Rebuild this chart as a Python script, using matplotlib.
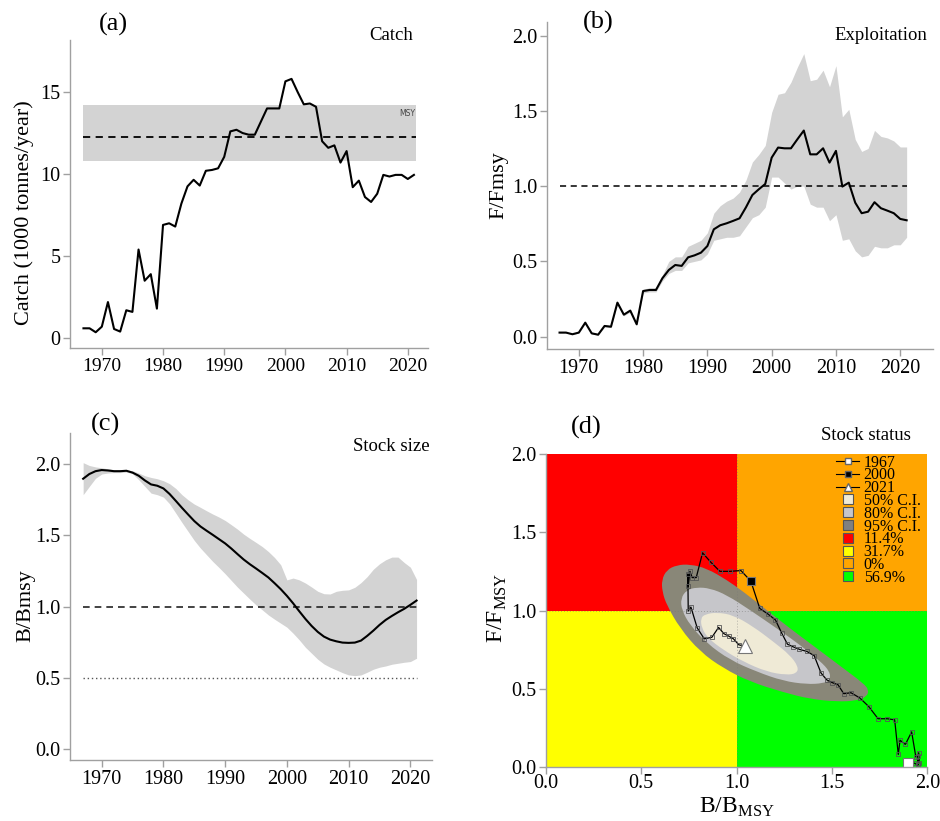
import numpy as np
import matplotlib
matplotlib.use("Agg")
import matplotlib.pyplot as plt
from matplotlib.path import Path
from matplotlib.patches import PathPatch, Rectangle
from matplotlib.lines import Line2D
from matplotlib.ticker import FormatStrFormatter

plt.rcParams['font.family'] = ['Liberation Serif', 'DejaVu Serif']
plt.rcParams['mathtext.fontset'] = 'custom'
plt.rcParams['mathtext.rm'] = 'Liberation Serif'

# ---------------- data ----------------
years = np.arange(1967, 2022)

catch = [0.6, 0.6, 0.36, 0.7, 2.2, 0.56, 0.4, 1.7, 1.6, 5.4,
         3.5, 3.9, 1.8, 6.9, 7.0, 6.8, 8.2, 9.25, 9.65, 9.3,
         10.2, 10.25, 10.35, 11.05, 12.6, 12.7, 12.5, 12.4, 12.4, 13.2,
         14.0, 14.0, 14.0, 15.65, 15.8, 15.0, 14.25, 14.3, 14.1, 12.0,
         11.6, 11.75, 10.7, 11.4, 9.2, 9.6, 8.6, 8.3, 8.8, 9.95,
         9.85, 9.95, 9.95, 9.7, 9.95]
msy = 12.28
msy_lo, msy_hi = 10.77, 14.18

ffmsy = [0.027, 0.027, 0.016, 0.027, 0.093, 0.022, 0.013, 0.071, 0.066, 0.226,
         0.146, 0.173, 0.082, 0.303, 0.31, 0.31, 0.388, 0.443, 0.476, 0.47,
         0.527, 0.54, 0.558, 0.602, 0.713, 0.74, 0.753, 0.769, 0.786, 0.859,
         0.941, 0.979, 1.014, 1.189, 1.256, 1.251, 1.251, 1.311, 1.369, 1.211,
         1.211, 1.251, 1.156, 1.234, 0.997, 1.023, 0.89, 0.82, 0.83, 0.893,
         0.853, 0.837, 0.82, 0.782, 0.773]
ffmsy_hi = [0.03, 0.03, 0.02, 0.03, 0.10, 0.03, 0.02, 0.08, 0.075, 0.235,
            0.155, 0.185, 0.09, 0.315, 0.325, 0.325, 0.41, 0.50, 0.53, 0.53,
            0.60, 0.62, 0.64, 0.69, 0.82, 0.87, 0.90, 0.92, 0.96, 1.04,
            1.16, 1.21, 1.27, 1.49, 1.61, 1.62, 1.69, 1.79, 1.88, 1.70,
            1.71, 1.77, 1.66, 1.80, 1.46, 1.51, 1.31, 1.23, 1.25, 1.37,
            1.33, 1.32, 1.30, 1.26, 1.26]
ffmsy_lo = [0.024, 0.024, 0.013, 0.024, 0.086, 0.018, 0.010, 0.064, 0.06, 0.215,
            0.138, 0.163, 0.075, 0.29, 0.297, 0.297, 0.37, 0.42, 0.44, 0.44,
            0.49, 0.50, 0.51, 0.55, 0.64, 0.65, 0.66, 0.66, 0.67, 0.73,
            0.79, 0.81, 0.86, 1.06, 1.06, 1.02, 0.98, 1.00, 1.00, 0.88,
            0.86, 0.86, 0.77, 0.81, 0.64, 0.65, 0.57, 0.53, 0.54, 0.60,
            0.59, 0.59, 0.61, 0.61, 0.66]

bbmsy = [1.897, 1.93, 1.95, 1.958, 1.955, 1.95, 1.95, 1.953, 1.94, 1.918,
         1.885, 1.857, 1.848, 1.829, 1.79, 1.742, 1.693, 1.646, 1.60, 1.562,
         1.532, 1.503, 1.473, 1.443, 1.407, 1.368, 1.33, 1.297, 1.267, 1.236,
         1.204, 1.164, 1.122, 1.075, 1.023, 0.967, 0.913, 0.864, 0.822, 0.789,
         0.768, 0.756, 0.747, 0.745, 0.747, 0.761, 0.794, 0.831, 0.871, 0.906,
         0.934, 0.96, 0.984, 1.012, 1.042]
bbmsy_hi = [2.01, 1.99, 1.98, 1.974, 1.967, 1.96, 1.96, 1.958, 1.953, 1.937,
            1.918, 1.906, 1.897, 1.883, 1.862, 1.829, 1.785, 1.749, 1.719, 1.696,
            1.672, 1.649, 1.628, 1.604, 1.574, 1.543, 1.508, 1.478, 1.45, 1.421,
            1.386, 1.344, 1.293, 1.187, 1.20, 1.187, 1.165, 1.137, 1.107, 1.09,
            1.088, 1.107, 1.114, 1.117, 1.135, 1.168, 1.21, 1.262, 1.30, 1.328,
            1.347, 1.347, 1.309, 1.276, 1.19]
bbmsy_lo = [1.785, 1.843, 1.90, 1.93, 1.937, 1.94, 1.94, 1.944, 1.932, 1.89,
            1.843, 1.796, 1.785, 1.768, 1.721, 1.656, 1.59, 1.527, 1.464, 1.41,
            1.363, 1.316, 1.274, 1.23, 1.183, 1.136, 1.094, 1.052, 1.012, 0.977,
            0.941, 0.911, 0.883, 0.855, 0.813, 0.766, 0.714, 0.672, 0.63, 0.597,
            0.574, 0.555, 0.536, 0.52, 0.515, 0.52, 0.539, 0.56, 0.574, 0.583,
            0.595, 0.602, 0.609, 0.614, 0.637]

# kobe confidence regions (outlines: B/Bmsy, F/Fmsy)
ci95_b = [0.608, 0.634, 0.687, 0.756, 0.844, 0.949, 1.036, 1.158, 1.280, 1.420,
          1.560, 1.665, 1.694, 1.682, 1.630, 1.525, 1.385, 1.245, 1.071, 0.931,
          0.809, 0.704, 0.634, 0.611]
ci95_f = [1.196, 1.260, 1.291, 1.296, 1.270, 1.196, 1.121, 1.004, 0.887, 0.760,
          0.632, 0.536, 0.493, 0.451, 0.425, 0.419, 0.436, 0.479, 0.546, 0.632,
          0.738, 0.887, 1.036, 1.121]
ci80_b = [0.708, 0.739, 0.791, 0.861, 0.949, 1.071, 1.211, 1.333, 1.438, 1.490,
          1.490, 1.455, 1.368, 1.245, 1.106, 0.966, 0.844, 0.756, 0.713]
ci80_f = [1.079, 1.132, 1.149, 1.143, 1.100, 1.004, 0.887, 0.781, 0.679, 0.610,
          0.557, 0.536, 0.530, 0.551, 0.610, 0.685, 0.792, 0.908, 1.004]
ci50_b = [0.812, 0.835, 0.896, 0.983, 1.088, 1.193, 1.280, 1.324, 1.316, 1.263,
          1.158, 1.036, 0.931, 0.852, 0.818]
ci50_f = [0.951, 0.977, 0.989, 0.972, 0.898, 0.802, 0.717, 0.642, 0.600, 0.589,
          0.610, 0.674, 0.749, 0.823, 0.887]

quad_labels = ["11.4%", "31.7%", "0%", "56.9%"]

x_ticks = [1970, 1980, 1990, 2000, 2010, 2020]

# ---------------- style ----------------
GRAY = '#a0a0a0'
TICK_FS = 14.5
fig = plt.figure(figsize=(9.4, 8.21), dpi=100)
W, H = 940.0, 821.0


def make_ax(l, r, t, b):
    return fig.add_axes([l / W, 1 - b / H, (r - l) / W, (b - t) / H])


def style(ax):
    for s in ['top', 'right']:
        ax.spines[s].set_visible(False)
    for s in ['left', 'bottom']:
        ax.spines[s].set_color(GRAY)
        ax.spines[s].set_linewidth(1.0)
    ax.tick_params(direction='out', length=5, width=1.0, color=GRAY,
                   labelsize=TICK_FS, pad=2)


def place_ylabel(ax, l, r, t, b, px, py):
    ax.yaxis.set_label_coords((px - l) / (r - l), (b - py) / (b - t))


# ---------------- (a) Catch ----------------
A = (70, 428, 40, 348)
ax = make_ax(*A)
style(ax)
ax.tick_params(axis='x', labelsize=14)
ax.fill_between([years[0], years[-1] + 0.4], msy_lo, msy_hi, color='#d3d3d3', lw=0)
ax.plot([years[0], years[-1] + 0.4], [msy, msy], color='black', ls=(0, (4, 3)), lw=1.3)
ax.plot(years, catch, color='black', lw=1.5)
ax.text(years[-1] + 0.2, 13.7, 'MSY', family='DejaVu Sans', fontsize=5.5,
        color='#444444', ha='right', va='center')
ax.set_xlim(1964.8, 2023.3)
ax.set_ylim(-0.6, 18.17)
ax.set_xticks(x_ticks)
ax.set_yticks([0, 5, 10, 15])
ax.set_ylabel('Catch (1000 tonnes/year)', fontsize=16)
place_ylabel(ax, *A, 34, 213)
fig.text(113 / W, 1 - 24 / H, '(a)', fontsize=19, ha='center', va='center')
fig.text(413 / W, 1 - 35 / H, 'Catch', fontsize=13.5, ha='right', va='center')

# ---------------- (b) Exploitation ----------------
B = (546.7, 933, 22, 349)
ax = make_ax(*B)
style(ax)
ax.fill_between(years, ffmsy_lo, ffmsy_hi, color='#d3d3d3', lw=0)
ax.plot([years[0], years[-1]], [1, 1], color='black', ls=(0, (4, 3)), lw=1.1)
ax.plot(years, ffmsy, color='black', lw=1.5)
ax.set_xlim(1965.0, 2025.1)
ax.set_ylim(-0.082, 2.09)
ax.set_xticks(x_ticks)
ax.set_yticks([0, 0.5, 1.0, 1.5, 2.0])
ax.yaxis.set_major_formatter(FormatStrFormatter('%.1f'))
ax.set_ylabel('F/Fmsy', fontsize=16)
place_ylabel(ax, *B, 508, 185)
fig.text(598 / W, 1 - 22 / H, '(b)', fontsize=19, ha='center', va='center')
fig.text(927 / W, 1 - 35 / H, 'Exploitation', fontsize=13.5, ha='right', va='center')

# ---------------- (c) Stock size ----------------
C = (70, 432, 433, 760)
ax = make_ax(*C)
style(ax)
ax.fill_between(years, bbmsy_lo, bbmsy_hi, color='#d3d3d3', lw=0)
ax.plot([years[0], years[-1]], [1, 1], color='#222222', ls=(0, (4, 3)), lw=1.2)
ax.plot([years[0], years[-1]], [0.5, 0.5], color='#555555', ls=(0, (1, 2)), lw=1.0)
ax.plot(years, bbmsy, color='black', lw=1.5)
ax.set_xlim(1964.87, 2023.5)
ax.set_ylim(-0.077, 2.218)
ax.set_xticks(x_ticks)
ax.set_yticks([0, 0.5, 1.0, 1.5, 2.0])
ax.yaxis.set_major_formatter(FormatStrFormatter('%.1f'))
ax.set_ylabel('B/Bmsy', fontsize=16)
place_ylabel(ax, *C, 35, 606)
fig.text(105 / W, 1 - 424 / H, '(c)', fontsize=19, ha='center', va='center')
fig.text(430 / W, 1 - 446 / H, 'Stock size', fontsize=13.5, ha='right', va='center')

# ---------------- (d) Stock status ----------------
D = (545.7, 927.3, 454, 767.3)
ax = make_ax(*D)
style(ax)
lim = 2.0
ax.add_patch(Rectangle((0, 1), 1, lim - 1, color='#ff0000', lw=0))
ax.add_patch(Rectangle((1, 1), lim - 1, lim - 1, color='#ffa500', lw=0))
ax.add_patch(Rectangle((0, 0), 1, 1, color='#ffff00', lw=0))
ax.add_patch(Rectangle((1, 0), lim - 1, 1, color='#00ff00', lw=0))


def smooth_closed(bx, fy):
    pts = np.column_stack([bx, fy])
    n = len(pts)
    mids = (pts + np.roll(pts, -1, axis=0)) / 2
    verts = [mids[-1]]
    codes = [Path.MOVETO]
    for i in range(n):
        verts += [pts[i], mids[i]]
        codes += [Path.CURVE3, Path.CURVE3]
    return Path(verts, codes)


C95, C80, C50 = '#898778', '#c6c6ca', '#efead6'
ax.add_patch(PathPatch(smooth_closed(ci95_b, ci95_f), facecolor=C95, edgecolor='none'))
ax.add_patch(PathPatch(smooth_closed(ci80_b, ci80_f), facecolor=C80, edgecolor='none'))
ax.add_patch(PathPatch(smooth_closed(ci50_b, ci50_f), facecolor=C50, edgecolor='none'))
ax.axhline(1, color='#777777', ls=(0, (1, 2)), lw=0.7, alpha=0.5)
ax.axvline(1, color='#777777', ls=(0, (1, 2)), lw=0.7, alpha=0.5)

ax.plot(bbmsy, ffmsy, color='black', lw=0.9, marker='s', ms=3.2,
        mfc='none', mec='#555555', mew=0.6)
i2000 = list(years).index(2000)
ax.plot(bbmsy[0], ffmsy[0], marker='s', ms=7, mfc='white', mec='#777777', mew=0.8, ls='none')
ax.plot(bbmsy[i2000], ffmsy[i2000], marker='s', ms=6, mfc='black', mec='#777777', mew=0.8, ls='none')
ax.plot(bbmsy[-1], ffmsy[-1], marker='^', ms=10, mfc='white', mec='#777777', mew=0.8, ls='none')

ax.set_xlim(0, lim)
ax.set_ylim(0, lim)
ax.set_xticks([0, 0.5, 1.0, 1.5, 2.0])
ax.set_yticks([0, 0.5, 1.0, 1.5, 2.0])
ax.xaxis.set_major_formatter(FormatStrFormatter('%.1f'))
ax.yaxis.set_major_formatter(FormatStrFormatter('%.1f'))
ax.tick_params(axis='x', pad=0)
ax.set_xlabel('B/B$_{\\mathrm{MSY}}$', fontsize=17, labelpad=2)
ax.set_ylabel('F/F$_{\\mathrm{MSY}}$', fontsize=17)
place_ylabel(ax, *D, 509, 608)

handles = [
    Line2D([], [], color='black', lw=0.8, marker='s', ms=5, mfc='white', mec='#666666'),
    Line2D([], [], color='black', lw=0.8, marker='s', ms=5, mfc='black', mec='#666666'),
    Line2D([], [], color='black', lw=0.8, marker='^', ms=6, mfc='white', mec='#666666'),
]
sq_cols = [C50, C80, '#808080', '#ff0000', '#ffff00', '#ffa500', '#00ff00']
for c in sq_cols:
    handles.append(Line2D([], [], ls='none', marker='s', ms=7, mfc=c, mec='#555555', mew=0.8))
labels = ['1967', '2000', '2021', '50% C.I.', '80% C.I.', '95% C.I.'] + quad_labels
leg = ax.legend(handles, labels, loc='upper left', bbox_to_anchor=(0.762, 0.998),
                frameon=False, fontsize=11.5, labelspacing=-0.2, handlelength=1.4,
                handletextpad=0.3, borderpad=0, borderaxespad=0)

fig.text(586 / W, 1 - 427 / H, '(d)', fontsize=19, ha='center', va='center')
fig.text(911 / W, 1 - 435 / H, 'Stock status', fontsize=13.5, ha='right', va='center')

fig.savefig('out.png', dpi=100)
